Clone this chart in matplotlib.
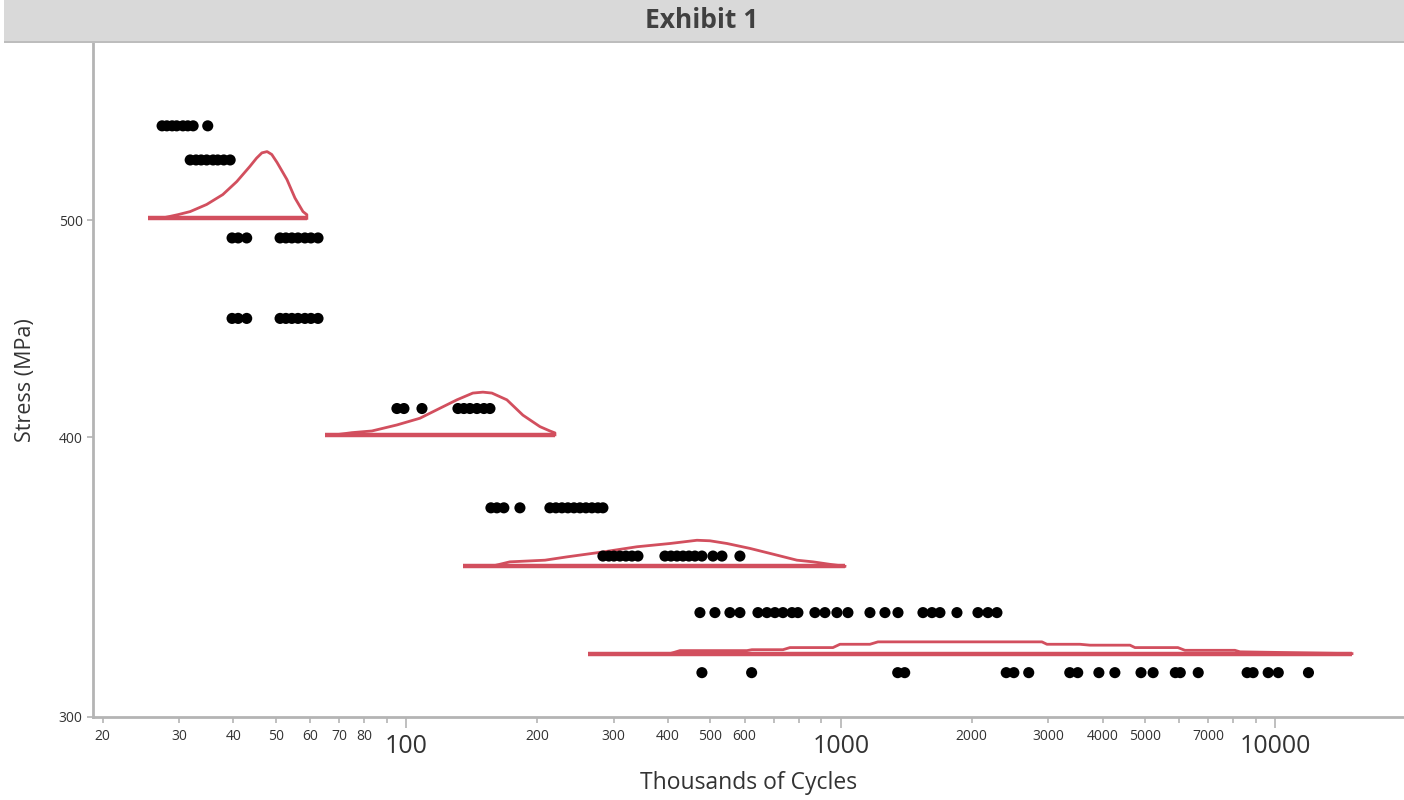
import matplotlib
matplotlib.use("Agg")
import matplotlib.pyplot as plt
import matplotlib.ticker as mtick
from matplotlib.patches import Rectangle

plt.rcParams["font.family"] = ["Open Sans", "DejaVu Sans"]

# stress level of each row of failures (MPa)
stress_levels = [551, 532, 491, 452, 412, 372, 354, 334, 314]

# thousands of cycles to failure, one list per stress row
cycles_551 = [27.4, 28.1, 28.9, 29.6, 30.6, 31.4, 32.3, 34.9]
cycles_532 = [31.8, 32.8, 33.7, 34.7, 35.9, 36.8, 38.0, 39.3]
cycles_491 = [39.7, 41.0, 42.9, 51.2, 52.8, 54.5, 56.3, 58.4, 60.3, 62.6]
cycles_452 = [39.7, 41.0, 42.9, 51.2, 52.8, 54.5, 56.3, 58.4, 60.3, 62.6]
cycles_412 = [95.1, 98.7, 108.6, 131.4, 135.6, 140.0, 145.3, 150.8, 155.7]
cycles_372 = [156.5, 161.5, 167.6, 182.5, 213.9, 220.8, 228.0, 235.3, 243.0,
              250.8, 258.9, 267.3, 275.9, 283.3]
cycles_354 = [283.3, 292.4, 300.3, 310.0, 320.0, 330.4, 341.1, 393.5, 406.3,
              419.4, 433.0, 446.9, 461.3, 478.7, 507.5, 532.3, 585.5]
cycles_334 = [473.7, 512.9, 555.3, 585.5, 644.2, 675.6, 704.8, 735.5, 771.5,
              796.2, 871.2, 918.7, 979.0, 1037.8, 1166.2, 1262.7, 1353.0,
              1544.3, 1619.7, 1689.8, 1849.2, 2066.9, 2179.2, 2285.6]
cycles_314 = [478.7, 623, 1351, 1402, 2401, 2500, 2705, 3362, 3507, 3923, 4270,
              4904, 5229, 5882, 6039, 6641, 8605, 8883, 9621, 10150, 11910]

cycle_rows = [cycles_551, cycles_532, cycles_491, cycles_452, cycles_412,
              cycles_372, cycles_354, cycles_334, cycles_314]

# fitted life distributions drawn at their stress level (outline)
curve_500_x = [27.5, 29.8, 31.8, 34.7, 37.8, 40.7, 43.6, 45.2, 46.5, 47.8, 49.0,
               50.4, 53.1, 55.4, 57.8, 59.0, 59.0]
curve_500_y = [501.2, 502.9, 504.5, 508.2, 513.4, 520.3, 528.4, 533.0, 535.9,
               536.6, 535.0, 530.6, 521.4, 511.6, 504.5, 502.9, 501]
curve_400_x = [70.0, 74.9, 83.3, 95.1, 107.4, 119.4, 130.7, 142.2, 150.0, 157.3,
               170.3, 185.4, 202.9, 213.9, 219.7, 219.7]
curve_400_y = [401.2, 401.9, 402.6, 405.1, 407.9, 412.1, 415.7, 418.6, 419.0,
               418.6, 415.7, 409.2, 404.4, 402.6, 401.8, 401]
curve_350_x = [160.0, 173.0, 208.4, 234.1, 283.3, 339.3, 404.2, 466.3, 499.5,
               546.7, 617.3, 697.5, 792.0, 862.2, 943.5, 1021.4]
curve_350_y = [350.6, 351.9, 352.5, 353.7, 355.5, 357.4, 358.6, 359.8, 359.6,
               358.6, 356.8, 354.7, 352.5, 351.9, 351.0, 350.3]
curve_320_x = [404.2, 426.1, 607.7, 624.0, 735.5, 763.1, 958.5, 994.8, 1166.2,
               1216.6, 2901, 2979, 3549, 3742, 4626, 4750, 5963, 6189, 8066,
               8285, 15000]
curve_320_y = [320.2, 321.2, 321.2, 321.5, 321.5, 322.2, 322.2, 323.3, 323.3,
               324.1, 324.1, 323.3, 323.3, 323.0, 323.0, 322.2, 322.2, 321.3,
               321.3, 320.8, 320.2]

baseline_levels = [501, 401, 350.3, 320.2]
baseline_start = [25.4, 64.9, 134.9, 261.6]
baseline_end = [59.0, 219.7, 1021.4, 15000]

major_ticks = [100, 1000, 10000]
minor_ticks = [20, 30, 40, 50, 60, 70, 80, 90,
               200, 300, 400, 500, 600, 700, 800, 900,
               2000, 3000, 4000, 5000, 6000, 7000, 8000, 9000]
minor_labels = ["20", "30", "40", "50", "60", "70", "80", "",
                "200", "300", "400", "500", "600", "", "", "",
                "2000", "3000", "4000", "5000", "", "7000", "", ""]
y_ticks = [300, 400, 500]

curve_color = "#d24f5e"
axis_color = "#b4b4b4"
text_color = "#333333"

fig = plt.figure(figsize=(14.04, 8.0), dpi=100)

# grey header band with title
fig.patches.append(Rectangle((4 / 1404, 758 / 800), 1400 / 1404, 42 / 800,
                             transform=fig.transFigure, facecolor="#d9d9d9",
                             edgecolor="none", zorder=0))
fig.patches.append(Rectangle((4 / 1404, 757 / 800), 1400 / 1404, 2 / 800,
                             transform=fig.transFigure, facecolor="#bdbdbd",
                             edgecolor="none", zorder=0))
fig.text(0.5, 779 / 800, "Exhibit 1", ha="center", va="center",
         fontsize=19, fontweight="bold", color="#404040")

ax = fig.add_axes([93 / 1404, 83 / 800, 1311 / 1404, 674 / 800])

for level, x0, x1 in zip(baseline_levels, baseline_start, baseline_end):
    ax.plot([x0, x1], [level, level], color=curve_color, linewidth=3.2,
            solid_capstyle="butt", zorder=2)

for cx, cy in [(curve_500_x, curve_500_y), (curve_400_x, curve_400_y),
               (curve_350_x, curve_350_y), (curve_320_x, curve_320_y)]:
    ax.plot(cx, cy, color=curve_color, linewidth=2.0, zorder=2)

for level, row in zip(stress_levels, cycle_rows):
    ax.scatter(row, [level] * len(row), s=64, color="black",
               edgecolors="none", zorder=3)

ax.set_xscale("log")
ax.set_yscale("log")
ax.set_xlim(19.0, 19760)
ax.set_ylim(300, 600)

ax.xaxis.set_major_locator(mtick.FixedLocator(major_ticks))
ax.xaxis.set_major_formatter(mtick.FixedFormatter([str(v) for v in major_ticks]))
ax.xaxis.set_minor_locator(mtick.FixedLocator(minor_ticks))
ax.xaxis.set_minor_formatter(mtick.FixedFormatter(minor_labels))
ax.yaxis.set_major_locator(mtick.FixedLocator(y_ticks))
ax.yaxis.set_major_formatter(mtick.FixedFormatter([str(v) for v in y_ticks]))
ax.yaxis.set_minor_locator(mtick.NullLocator())

ax.tick_params(axis="x", which="major", length=8, width=1.2, color=axis_color,
               labelsize=18, pad=4, labelcolor=text_color)
ax.tick_params(axis="x", which="minor", length=4.3, width=1.2, color=axis_color,
               labelsize=10, pad=4.5, labelcolor=text_color)
ax.tick_params(axis="y", which="major", length=4.5, width=1.2, color=axis_color,
               labelsize=10, pad=3, labelcolor=text_color)

ax.set_xlabel("Thousands of Cycles", fontsize=16.5, color=text_color, labelpad=9)
ax.set_ylabel("Stress (MPa)", fontsize=15.5, color=text_color, labelpad=16)

for side in ["top", "right"]:
    ax.spines[side].set_visible(False)
for side in ["left", "bottom"]:
    ax.spines[side].set_color(axis_color)
    ax.spines[side].set_linewidth(2)

fig.savefig("out.png", dpi=100)
